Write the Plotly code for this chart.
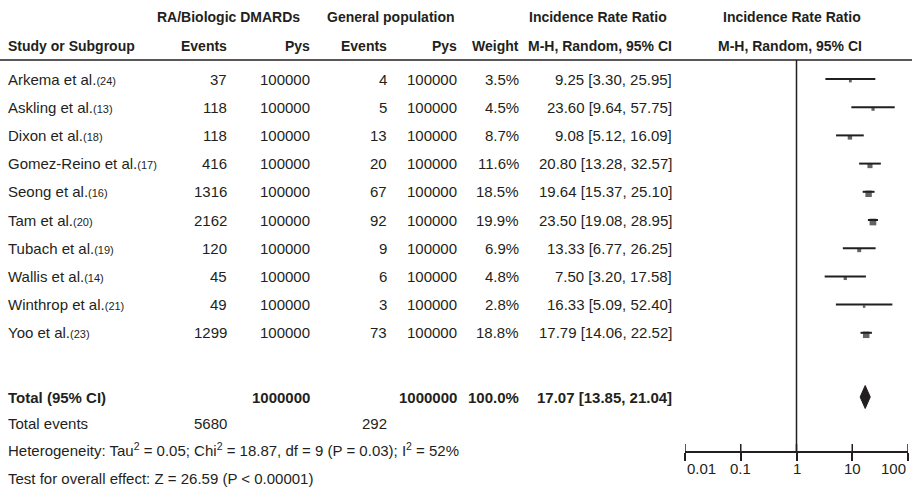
import math
import plotly.graph_objects as go

# ---------------- data ----------------
studies = ["Arkema et al.", "Askling et al.", "Dixon et al.", "Gomez-Reino et al.", "Seong et al.",
           "Tam et al.", "Tubach et al.", "Wallis et al.", "Winthrop et al.", "Yoo et al."]
refs = ["(24)", "(13)", "(18)", "(17)", "(16)", "(20)", "(19)", "(14)", "(21)", "(23)"]
ra_events = [37, 118, 118, 416, 1316, 2162, 120, 45, 49, 1299]
ra_pys = [100000] * 10
gp_events = [4, 5, 13, 20, 67, 92, 9, 6, 3, 73]
gp_pys = [100000] * 10
weights = [3.5, 4.5, 8.7, 11.6, 18.5, 19.9, 6.9, 4.8, 2.8, 18.8]
irr = [9.25, 23.60, 9.08, 20.80, 19.64, 23.50, 13.33, 7.50, 16.33, 17.79]
ci_lo = [3.30, 9.64, 5.12, 13.28, 15.37, 19.08, 6.77, 3.20, 5.09, 14.06]
ci_hi = [25.95, 57.75, 16.09, 32.57, 25.10, 28.95, 26.25, 17.58, 52.40, 22.52]

total_ra_pys = 1000000
total_gp_pys = 1000000
total_weight = 100.0
total_irr, total_lo, total_hi = 17.07, 13.85, 21.04
total_ra_events = 5680
total_gp_events = 292
heterogeneity = "Heterogeneity: Tau<sup>2</sup> = 0.05; Chi<sup>2</sup> = 18.87, df = 9 (P = 0.03); I<sup>2</sup> = 52%"
overall_test = "Test for overall effect: Z = 26.59 (P < 0.00001)"
tick_vals = [0.01, 0.1, 1, 10, 100]
tick_text = ["0.01", "0.1", "1", "10", "100"]

# ---------------- layout constants ----------------
W, H = 912, 496
FONT = "Liberation Sans, Arial, sans-serif"
FS = 15
FSH = 14
COL = "#231f20"
row_y = [79 + 28.2 * i for i in range(len(studies))]
y_total = 397
y_tevents = 423
y_het = 449
y_test = 478
y_axis = 452
y_hline = 60
y_ticklab = 468

fig = go.Figure()

# CI lines
xs, ys = [], []
for lo, hi, y in zip(ci_lo, ci_hi, row_y):
    xs += [lo, hi, None]
    ys += [y, y, None]
fig.add_trace(go.Scatter(x=xs, y=ys, mode="lines", line=dict(color=COL, width=2),
                         hoverinfo="skip", showlegend=False))
# point estimates (square hangs just below the CI line)
fig.add_trace(go.Scatter(x=irr, y=[y + 2 for y in row_y], mode="markers",
                         marker=dict(symbol="square", color=COL,
                                     size=[1.5 * w ** 0.5 for w in weights], line=dict(width=0)),
                         showlegend=False))
# diamond
fig.add_trace(go.Scatter(x=[total_lo, total_irr, total_hi, total_irr, total_lo],
                         y=[y_total, y_total - 11.5, y_total, y_total + 11.5, y_total],
                         mode="lines", fill="toself", fillcolor=COL,
                         line=dict(color=COL, width=1), showlegend=False))
# null line
fig.add_trace(go.Scatter(x=[1, 1], y=[y_hline, y_axis], mode="lines",
                         line=dict(color=COL, width=1.5), showlegend=False, hoverinfo="skip"))
# upward tick halves
tx, ty = [], []
for v in tick_vals:
    tx += [v, v, None]
    ty += [y_axis, y_axis - 8, None]
fig.add_trace(go.Scatter(x=tx, y=ty, mode="lines", line=dict(color=COL, width=1.5),
                         showlegend=False, hoverinfo="skip"))

ann = []


def txt(x, y, s, anchor="left", bold=False, size=FS):
    if bold:
        s = "<b>" + s + "</b>"
    ann.append(dict(x=x / W, y=y, xref="paper", yref="y", text=s, showarrow=False,
                    xanchor=anchor, yanchor="middle", font=dict(family=FONT, size=size, color=COL)))


# headers
txt(228, 17, "RA/Biologic DMARDs", "center", True, FSH)
txt(391, 17, "General population", "center", True, FSH)
txt(598, 17, "Incidence Rate Ratio", "center", True, FSH)
txt(792, 17, "Incidence Rate Ratio", "center", True, FSH)
txt(6, 46, "Study or Subgroup", "left", True, FSH)
txt(229, 46, "Events", "right", True, FSH)
txt(312, 46, "Pys", "right", True, FSH)
txt(389, 46, "Events", "right", True, FSH)
txt(459, 46, "Pys", "right", True, FSH)
txt(521, 46, "Weight", "right", True, FSH)
txt(674, 46, "M-H, Random, 95% CI", "right", True, FSH)
txt(790, 46, "M-H, Random, 95% CI", "center", True, FSH)

# study rows
for i, y in enumerate(row_y):
    txt(6, y, f"{studies[i]}<span style='font-size:11px'>{refs[i]}</span>")
    txt(229, y, f"{ra_events[i]}", "right")
    txt(312, y, f"{ra_pys[i]}", "right")
    txt(389, y, f"{gp_events[i]}", "right")
    txt(459, y, f"{gp_pys[i]}", "right")
    txt(521, y, f"{weights[i]:.1f}%", "right")
    txt(674, y, f"{irr[i]:.2f} [{ci_lo[i]:.2f}, {ci_hi[i]:.2f}]", "right")

# totals
txt(6, y_total, "Total (95% CI)", "left", True)
txt(312, y_total, f"{total_ra_pys}", "right", True)
txt(459, y_total, f"{total_gp_pys}", "right", True)
txt(521, y_total, f"{total_weight:.1f}%", "right", True)
txt(674, y_total, f"{total_irr:.2f} [{total_lo:.2f}, {total_hi:.2f}]", "right", True)
txt(6, y_tevents, "Total events")
txt(229, y_tevents, f"{total_ra_events}", "right")
txt(389, y_tevents, f"{total_gp_events}", "right")
txt(6, y_het, heterogeneity)
txt(6, y_test, overall_test)

# axis tick labels (end labels kept inside the axis span)
anchors = ["left", "center", "center", "center", "right"]
for v, t, a in zip(tick_vals, tick_text, anchors):
    ann.append(dict(x=math.log10(v), y=y_ticklab, xref="x", yref="y", text=t, showarrow=False,
                    xanchor=a, yanchor="middle", font=dict(family=FONT, size=FS, color=COL)))

fig.update_layout(
    width=W, height=H, margin=dict(l=0, r=0, t=0, b=0),
    paper_bgcolor="white", plot_bgcolor="white",
    annotations=ann,
    shapes=[dict(type="line", xref="paper", yref="y", x0=0, x1=1, y0=y_hline, y1=y_hline,
                 line=dict(color=COL, width=1.5))],
    xaxis=dict(type="log", range=[-2, 2], domain=[685 / W, 908 / W], anchor="free",
               position=1 - y_axis / H, showline=True, linecolor=COL, linewidth=1.5,
               ticks="outside", ticklen=8, tickwidth=1.5, tickcolor=COL,
               tickvals=tick_vals, showticklabels=False, showgrid=False, zeroline=False),
    yaxis=dict(range=[H, 0], domain=[0, 1], visible=False, showgrid=False, zeroline=False),
)

fig.write_html("out.html", config={"displayModeBar": False},
               post_script="document.body.style.margin='0';document.body.style.overflow='hidden';")
